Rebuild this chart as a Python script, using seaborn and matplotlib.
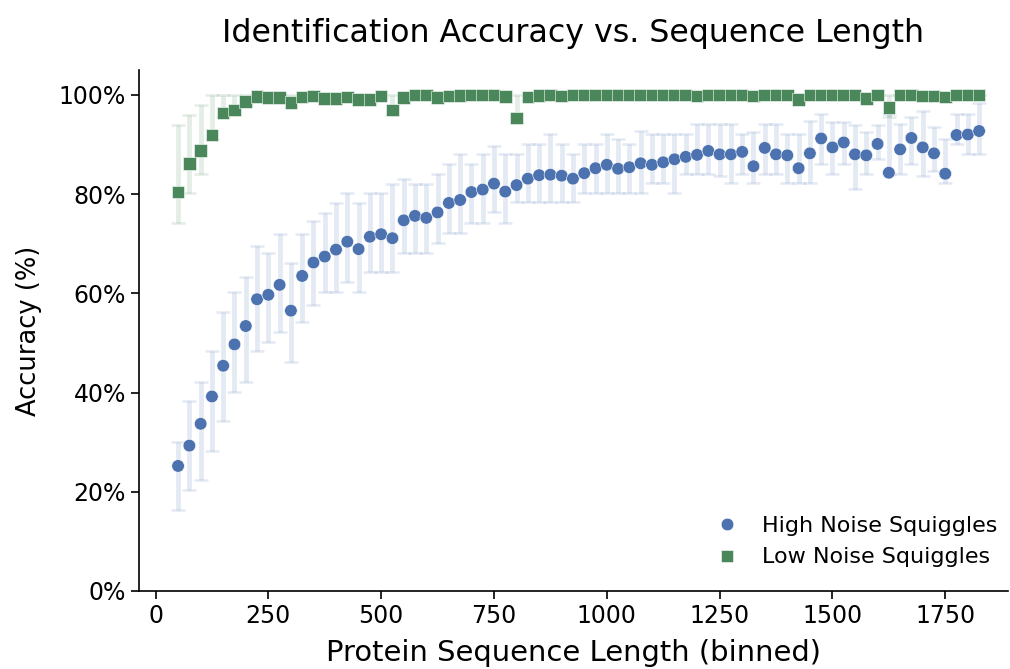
import matplotlib
matplotlib.use("Agg")
import matplotlib.pyplot as plt
from matplotlib.ticker import PercentFormatter
import seaborn as sns
import pandas as pd
import numpy as np

# ---------------- data ----------------
seq_len = [50, 75, 100, 125, 150, 175, 200, 225, 250, 275, 300, 325, 350, 375, 400,
           425, 450, 475, 500, 525, 550, 575, 600, 625, 650, 675, 700, 725, 750, 775,
           800, 825, 850, 875, 900, 925, 950, 975, 1000, 1025, 1050, 1075, 1100, 1125,
           1150, 1175, 1200, 1225, 1250, 1275, 1300, 1325, 1350, 1375, 1400, 1425,
           1450, 1475, 1500, 1525, 1550, 1575, 1600, 1625, 1650, 1675, 1700, 1725,
           1750, 1775, 1800, 1825]

high_acc = [25.2, 29.3, 33.7, 39.2, 45.4, 49.7, 53.4, 58.8, 59.7, 61.7, 56.5, 63.5,
            66.2, 67.4, 68.8, 70.4, 68.9, 71.4, 71.9, 71.1, 74.7, 75.6, 75.2, 76.3,
            78.2, 78.8, 80.4, 80.9, 82.1, 80.5, 81.8, 83.1, 83.8, 83.9, 83.7, 83.1,
            84.2, 85.2, 85.9, 85.1, 85.4, 86.2, 85.9, 86.4, 87.0, 87.5, 87.9, 88.7,
            88.0, 88.0, 88.5, 85.6, 89.3, 88.0, 87.8, 85.2, 88.2, 91.2, 89.4, 90.4,
            88.0, 87.8, 90.1, 84.3, 89.0, 91.3, 89.4, 88.2, 84.1, 91.9, 92.0, 92.7]
high_lo = [16.3, 20.3, 22.4, 28.3, 34.3, 40.2, 42.2, 48.3, 50.1, 52.2, 46.2, 54.3,
           57.7, 60.2, 60.2, 62.2, 60.2, 64.2, 64.2, 64.2, 68.2, 68.2, 68.2, 70.2,
           72.1, 72.1, 74.2, 74.2, 76.3, 74.2, 78.3, 78.3, 78.3, 78.3, 78.3, 78.3,
           80.2, 80.2, 80.2, 80.2, 80.2, 80.2, 82.2, 82.2, 80.2, 84.1, 84.1, 84.1,
           83.7, 82.2, 84.1, 82.2, 84.1, 84.1, 82.2, 82.2, 82.2, 86.0, 84.0, 86.0,
           81.1, 84.0, 87.0, 84.0, 84.0, 86.0, 83.6, 84.7, 82.2, 90.1, 88.0, 88.0]
high_hi = [30.1, 38.2, 42.2, 48.3, 56.2, 60.2, 63.3, 69.6, 68.2, 72.0, 66.1, 72.0,
           74.6, 76.2, 78.2, 80.2, 78.2, 80.2, 80.2, 82.1, 83.1, 82.1, 82.1, 84.0,
           86.0, 88.0, 86.0, 88.0, 89.7, 88.0, 88.0, 90.1, 90.1, 92.1, 90.1, 88.0,
           90.1, 90.1, 92.1, 91.1, 90.1, 92.8, 92.1, 92.1, 92.1, 92.1, 94.1, 94.1,
           94.1, 94.1, 92.1, 92.5, 94.1, 94.1, 92.1, 92.1, 94.8, 96.1, 94.6, 94.6,
           94.0, 92.6, 94.0, 96.1, 94.1, 95.6, 96.7, 93.6, 91.1, 96.1, 96.1, 98.4]

low_acc = [80.4, 86.2, 88.8, 91.9, 96.3, 96.9, 98.7, 99.7, 99.4, 99.4, 98.4, 99.6,
           99.8, 99.3, 99.3, 99.6, 99.1, 99.1, 99.8, 96.9, 99.5, 100.0, 100.0, 99.5,
           99.8, 99.9, 100.0, 100.0, 100.0, 99.7, 95.3, 99.6, 99.9, 100.0, 99.8, 100.0,
           100.0, 100.0, 100.0, 100.0, 100.0, 100.0, 100.0, 100.0, 100.0, 100.0, 99.8, 100.0,
           100.0, 100.0, 100.0, 99.8, 100.0, 100.0, 100.0, 99.0, 100.0, 100.0, 100.0, 100.0,
           100.0, 99.3, 100.0, 97.4, 100.0, 100.0, 99.8, 99.8, 99.6, 100.0, 100.0, 100.0]
low_lo = [74.2, 80.2, 84.1, 91.0, 95.5, 96.0, 98.0, 99.2, 98.8, 98.8, 97.5, 99.0,
          99.4, 98.7, 98.7, 99.0, 98.4, 98.4, 99.4, 96.0, 98.9, 100.0, 100.0, 98.9,
          99.4, 99.6, 100.0, 100.0, 100.0, 99.2, 94.3, 99.0, 99.6, 100.0, 99.4, 100.0,
          100.0, 100.0, 100.0, 100.0, 100.0, 100.0, 100.0, 100.0, 100.0, 100.0, 99.4, 100.0,
          100.0, 100.0, 100.0, 99.4, 100.0, 100.0, 100.0, 98.3, 100.0, 100.0, 100.0, 100.0,
          100.0, 98.7, 100.0, 95.5, 100.0, 100.0, 99.4, 99.4, 99.0, 100.0, 100.0, 100.0]
low_hi = [94.0, 96.0, 98.0, 100.0, 100.0, 100.0, 100.0, 100.0, 100.0, 100.0, 100.0, 100.0,
          100.0, 100.0, 100.0, 100.0, 100.0, 100.0, 100.0, 100.0, 100.0, 100.0, 100.0, 100.0,
          100.0, 100.0, 100.0, 100.0, 100.0, 100.0, 100.0, 100.0, 100.0, 100.0, 100.0, 100.0,
          100.0, 100.0, 100.0, 100.0, 100.0, 100.0, 100.0, 100.0, 100.0, 100.0, 100.0, 100.0,
          100.0, 100.0, 100.0, 100.0, 100.0, 100.0, 100.0, 100.0, 100.0, 100.0, 100.0, 100.0,
          100.0, 100.0, 100.0, 100.0, 100.0, 100.0, 100.0, 100.0, 100.0, 100.0, 100.0, 100.0]

series_names = ["High Noise Squiggles", "Low Noise Squiggles"]
x_ticks = [0, 250, 500, 750, 1000, 1250, 1500, 1750]
y_ticks = [0, 20, 40, 60, 80, 100]

# ---------------- style ----------------
sns.set_theme(style="ticks")
plt.rcParams['font.family'] = ['DejaVu Sans']
plt.rcParams.update({
    "text.color": "black", "axes.labelcolor": "black", "axes.edgecolor": "black",
    "xtick.color": "black", "ytick.color": "black",
})

blue = "#4C72B0"
green = "#4A875A"

df = pd.concat([
    pd.DataFrame({"len": seq_len, "acc": high_acc, "lo": high_lo, "hi": high_hi,
                  "Series": series_names[0]}),
    pd.DataFrame({"len": seq_len, "acc": low_acc, "lo": low_lo, "hi": low_hi,
                  "Series": series_names[1]}),
], ignore_index=True)

fig = plt.figure(figsize=(10.10, 6.69), dpi=100)
ax = fig.add_axes([139 / 1010, 1 - 591 / 669, (1008 - 139) / 1010, (591 - 70) / 669])

for name, col in zip(series_names, [blue, green]):
    d = df[df["Series"] == name]
    yerr = np.vstack([d["acc"] - d["lo"], d["hi"] - d["acc"]])
    ax.errorbar(d["len"], d["acc"], yerr=yerr, fmt="none", ecolor=col, alpha=0.15,
                elinewidth=3.4, capsize=5, capthick=1.8, zorder=1)

sns.scatterplot(data=df, x="len", y="acc", hue="Series", style="Series",
                palette=[blue, green], markers=["o", "s"], s=82,
                edgecolor="white", linewidth=0.4, ax=ax, zorder=3)

ax.set_xlim(-36.6, 1889)
ax.set_ylim(0, 105)
ax.set_xticks(x_ticks)
ax.set_yticks(y_ticks)
ax.yaxis.set_major_formatter(PercentFormatter(100, decimals=0))
ax.tick_params(labelsize=17, length=6, width=1.2, colors="black")
for sp in ["left", "bottom"]:
    ax.spines[sp].set_linewidth(1.2)
sns.despine(ax=ax)

ax.set_title("Identification Accuracy vs. Sequence Length", fontsize=22.8, pad=20)
ax.set_xlabel("Protein Sequence Length (binned)", fontsize=20.9, labelpad=8)
ax.set_ylabel("Accuracy (%)", fontsize=18.5, labelpad=12)

leg = ax.legend(loc="lower right", frameon=False, fontsize=16, title=None,
                handletextpad=0.57, markerscale=1.0, borderaxespad=0.1,
                bbox_to_anchor=(1.0, 0.024))

fig.savefig("out.png", dpi=100)
